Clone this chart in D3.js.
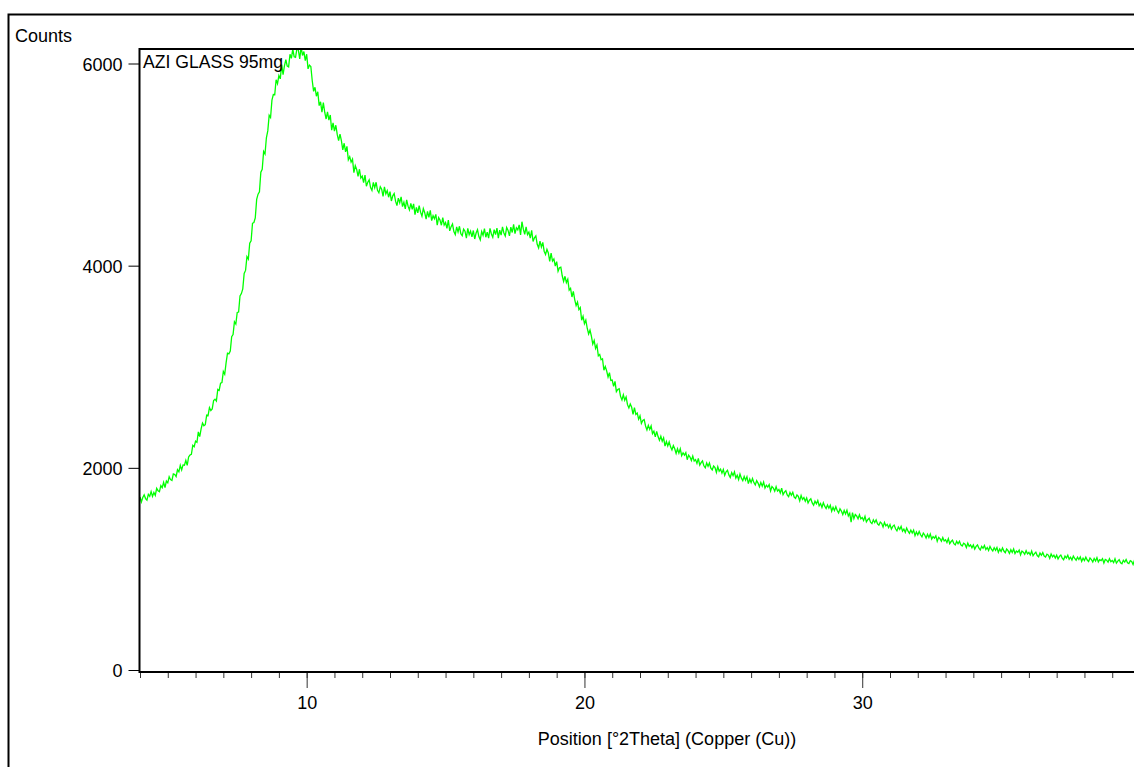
<!DOCTYPE html>
<html>
<head>
<meta charset="utf-8">
<script src="https://cdn.jsdelivr.net/npm/d3@7"></script>
<style>
  html, body { margin: 0; padding: 0; background: #fff; }
  svg { display: block; }
  text { font-family: "Liberation Sans", Arial, sans-serif; font-size: 18px; fill: #000; }
</style>
</head>
<body>
<svg id="chart" width="1134" height="767"></svg>
<script>
const sampleName = 'AZI GLASS 95mg';
const xTitle = 'Position [°2Theta] (Copper (Cu))';
const yTitle = 'Counts';

// scan grid: 4.00 .. 40.00 °2Theta, 0.05° step, one row per degree
const scanStart = 4.0;
const scanStep = 0.05;
const counts = [
  1711,1663,1707,1733,1696,1680,1738,1718,1765,1717,1756,1727,1797,1774,1765,1824,1804,1856,1805,1869,
  1852,1912,1883,1875,1940,1934,1913,1981,1961,2025,1980,2029,2026,2073,2025,2108,2127,2134,2222,2209,
  2264,2253,2355,2309,2385,2442,2417,2427,2522,2516,2596,2567,2583,2666,2679,2660,2776,2766,2838,2843,
  2953,2925,3041,3134,3128,3155,3298,3319,3445,3422,3537,3541,3700,3724,3771,3923,3953,4089,4065,4222,
  4247,4419,4427,4473,4656,4707,4731,4924,4954,5130,5104,5265,5333,5487,5465,5638,5693,5691,5839,5800,
  5881,5848,5990,5889,5977,6039,5975,5967,6092,6051,6143,6067,6061,6150,6134,6045,6166,6079,6118,6028,
  6092,5947,5984,5971,5832,5725,5765,5676,5720,5583,5621,5519,5613,5518,5451,5522,5439,5491,5340,5413,
  5330,5389,5298,5237,5302,5236,5146,5211,5126,5180,5048,5078,5024,5053,4920,4990,4952,4884,4954,4867,
  4887,4822,4895,4786,4826,4849,4772,4745,4823,4772,4825,4746,4721,4781,4756,4685,4779,4711,4742,4677,
  4733,4640,4691,4714,4638,4595,4668,4622,4680,4585,4627,4561,4650,4589,4551,4616,4558,4612,4505,4577,
  4522,4595,4529,4489,4564,4524,4460,4538,4478,4548,4446,4495,4464,4507,4400,4476,4451,4400,4475,4401,
  4427,4370,4450,4344,4386,4412,4337,4308,4383,4334,4390,4316,4296,4361,4341,4273,4369,4306,4342,4285,
  4348,4264,4323,4355,4288,4255,4338,4300,4367,4281,4332,4273,4368,4313,4281,4356,4308,4371,4273,4351,
  4302,4383,4324,4294,4379,4349,4295,4381,4328,4408,4316,4375,4354,4404,4305,4435,4361,4310,4385,4308,
  4332,4272,4350,4239,4276,4294,4212,4175,4243,4184,4230,4143,4111,4161,4126,4043,4124,4046,4067,3995,
  4040,3945,3980,3985,3900,3845,3895,3833,3865,3758,3775,3690,3745,3665,3605,3640,3565,3585,3460,3500,
  3427,3461,3381,3324,3362,3303,3224,3260,3182,3215,3108,3122,3070,3079,2965,3003,2959,2898,2941,2864,
  2869,2806,2855,2754,2775,2782,2707,2672,2722,2669,2701,2625,2593,2631,2599,2530,2596,2529,2543,2481,
  2514,2439,2468,2477,2414,2375,2420,2380,2415,2339,2362,2306,2361,2309,2272,2312,2263,2297,2215,2261,
  2217,2257,2208,2177,2220,2189,2143,2189,2146,2188,2120,2149,2126,2151,2080,2126,2107,2072,2117,2067,
  2081,2044,2094,2026,2052,2068,2020,2000,2048,2015,2048,1997,1980,2018,2002,1954,2012,1967,1987,1947,
  1983,1926,1960,1976,1930,1904,1952,1923,1960,1899,1927,1883,1939,1898,1873,1914,1877,1912,1844,1889,
  1854,1894,1854,1830,1873,1849,1812,1856,1819,1859,1800,1828,1810,1834,1771,1815,1800,1770,1813,1770,
  1785,1751,1798,1735,1760,1774,1731,1714,1757,1728,1758,1711,1698,1731,1717,1674,1727,1687,1705,1669,
  1701,1652,1680,1694,1653,1630,1671,1645,1677,1624,1647,1609,1655,1621,1598,1633,1601,1630,1571,1609,
  1577,1615,1577,1554,1595,1572,1537,1578,1543,1581,1525,1551,1462,1556,1498,1538,1524,1496,1536,1496,
  1508,1479,1520,1466,1487,1501,1463,1448,1486,1459,1486,1446,1433,1463,1451,1414,1460,1426,1441,1409,
  1439,1394,1421,1434,1397,1376,1414,1391,1421,1373,1394,1361,1404,1373,1352,1385,1356,1383,1329,1365,
  1336,1371,1338,1318,1355,1336,1305,1342,1311,1346,1296,1320,1305,1327,1274,1312,1299,1275,1311,1276,
  1288,1261,1300,1250,1271,1284,1250,1237,1273,1249,1274,1238,1227,1255,1244,1211,1255,1223,1238,1209,
  1237,1197,1223,1237,1205,1188,1224,1204,1232,1191,1212,1182,1223,1195,1178,1209,1184,1211,1164,1197,
  1172,1207,1177,1161,1197,1181,1153,1190,1163,1197,1152,1177,1164,1186,1139,1176,1166,1145,1181,1149,
  1163,1138,1177,1130,1151,1165,1132,1120,1157,1135,1161,1127,1117,1146,1137,1105,1148,1119,1135,1108,
  1136,1099,1124,1137,1107,1091,1126,1108,1135,1096,1116,1088,1128,1103,1086,1116,1093,1118,1074,1106,
  1083,1116,1088,1073,1108,1093,1068,1103,1078,1111,1069,1092,1082,1102,1058,1094,1086,1066,1101,1071,
  1084,1063,1100,1057,1077,1091,1061,1051,1086,1067,1093,1061,1053,1082,1074,1044,1086,1060,1076,1052,
  1065
];

const yTicks = [0, 2000, 4000, 6000];
const xMajorTicks = [10, 20, 30];
const xMinorTicks = d3.range(4, 41);

const svg = d3.select('#chart');

const plot = { left: 139.5, top: 49, right: 1140, bottom: 672 };

const x = d3.scaleLinear().domain([4, 40]).range([140, 1140]);
const y = d3.scaleLinear().domain([0, 6000]).range([670, 63.5]);

// outer frame (runs off the right and bottom of the window)
svg.append('rect')
  .attr('x', 8.5).attr('y', 14.5).attr('width', 1300).attr('height', 900)
  .attr('fill', 'none').attr('stroke', '#000').attr('stroke-width', 2);

svg.append('text')
  .attr('x', 15).attr('y', 42)
  .text(yTitle);

// clip for the trace
svg.append('clipPath').attr('id', 'plotClip')
  .append('rect')
  .attr('x', plot.left).attr('y', plot.top)
  .attr('width', plot.right - plot.left).attr('height', plot.bottom - plot.top);

const line = d3.line()
  .x((d, i) => x(scanStart + i * scanStep))
  .y(d => y(d));

svg.append('path')
  .datum(counts)
  .attr('clip-path', 'url(#plotClip)')
  .attr('fill', 'none')
  .attr('stroke', '#00ff00')
  .attr('stroke-width', 1.3)
  .attr('d', line);

// y axis ticks + labels
const yAxis = svg.append('g')
  .attr('transform', `translate(${plot.left},0)`)
  .call(d3.axisLeft(y).tickValues(yTicks).tickSize(11).tickPadding(6).tickFormat(d3.format('d')));
yAxis.select('.domain').remove();
yAxis.selectAll('line').attr('stroke', '#000');
yAxis.selectAll('text').attr('dy', '0.38em');

// x axis: minor ticks every degree, major at labelled values
const xMinor = svg.append('g')
  .attr('transform', `translate(0,${plot.bottom})`)
  .call(d3.axisBottom(x).tickValues(xMinorTicks).tickSize(6).tickFormat(''));
xMinor.select('.domain').remove();
xMinor.selectAll('line').attr('stroke', '#333');

const xMajor = svg.append('g')
  .attr('transform', `translate(0,${plot.bottom})`)
  .call(d3.axisBottom(x).tickValues(xMajorTicks).tickSize(16).tickPadding(8).tickFormat(d3.format('d')));
xMajor.select('.domain').remove();
xMajor.selectAll('line').attr('stroke', '#333');

svg.append('text')
  .attr('x', 667).attr('y', 745)
  .attr('text-anchor', 'middle')
  .text(xTitle);

// plot frame
svg.append('rect')
  .attr('x', plot.left).attr('y', plot.top)
  .attr('width', 1300).attr('height', plot.bottom - plot.top)
  .attr('fill', 'none').attr('stroke', '#000').attr('stroke-width', 2);

svg.append('text')
  .attr('x', 143).attr('y', 68)
  .attr('textLength', 140).attr('lengthAdjust', 'spacingAndGlyphs')
  .text(sampleName);
</script>
</body>
</html>
